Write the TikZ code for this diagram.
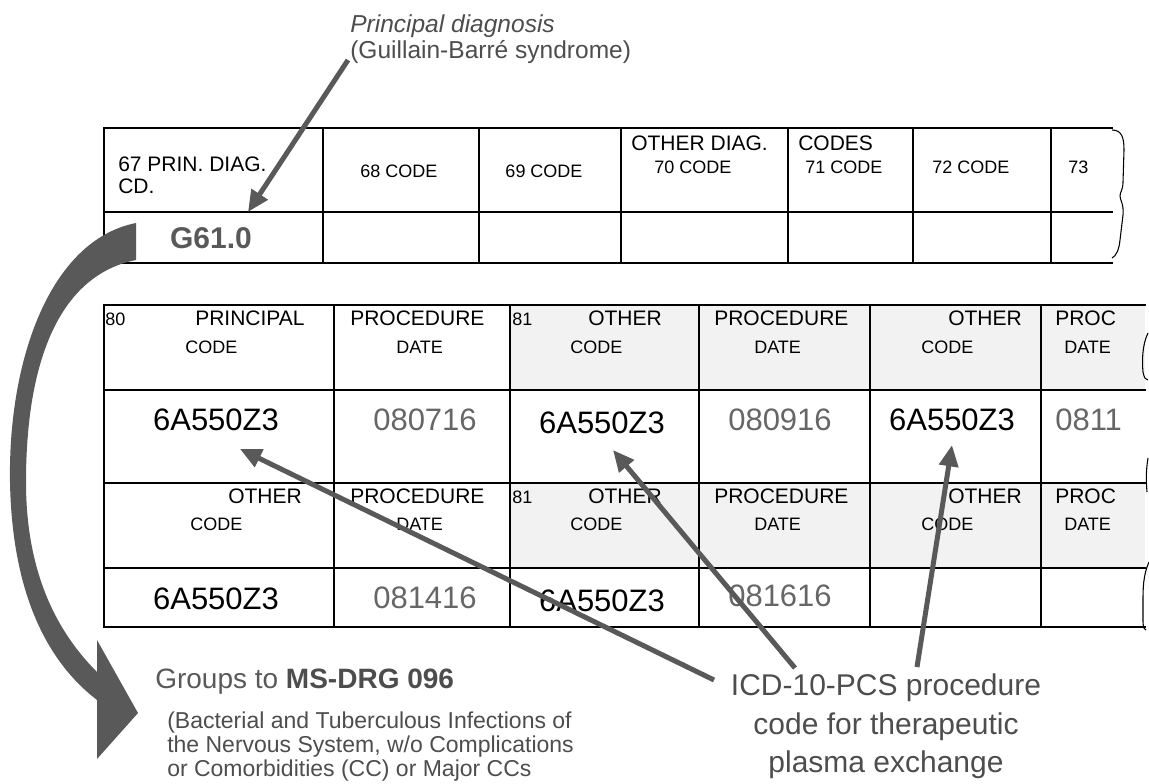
\documentclass[tikz,border=0pt]{standalone}
\usepackage{fontspec}
\setmainfont{Liberation Sans}
\usetikzlibrary{arrows.meta}

\definecolor{inkgray}{HTML}{595959}
\definecolor{dategray}{HTML}{666666}
\definecolor{notegray}{HTML}{4D4D4D}
\definecolor{cellgray}{HTML}{F2F2F2}

\tikzset{
  formline/.style={line width=1.6pt, line cap=rect},
  wavy/.style={line width=0.8pt},
  hbig/.style={anchor=base west, inner sep=0pt, font=\fontsize{15.75pt}{18pt}\selectfont},
  hsmall/.style={anchor=base west, inner sep=0pt, font=\fontsize{13.5pt}{16pt}\selectfont},
  codetxt/.style={anchor=base, inner sep=0pt, font=\fontsize{23.25pt}{26pt}\selectfont},
  datetxt/.style={codetxt, text=dategray},
  notetxt/.style={anchor=base west, inner sep=0pt, text=notegray},
  pointer/.style={draw=inkgray, line width=3.75pt, -{Triangle[length=16pt,width=14pt]}},
}

\begin{document}
\begin{tikzpicture}[x=0.75pt,y=-0.75pt]
		%%%%% START %%%%%
		\useasboundingbox (0,0) rectangle (1149,783);
		
		\node[notetxt, font=\fontsize{18.4pt}{22pt}\selectfont\itshape] (pdx) at (350,32) {Principal diagnosis};
		\node[notetxt, font=\fontsize{18.4pt}{22pt}\selectfont] (gbs) at (350,58) {(Guillain-Barré syndrome)};
		
		% upper form
		\draw[formline] (104,128) -- (1112,128);
		\draw[formline] (104,212) -- (1112,212);
		\draw[formline] (104,263) -- (1112,263);
		\draw[formline] (104,128) -- (104,263);
		\draw[formline] (323,128) -- (323,263);
		\draw[formline] (479,128) -- (479,263);
		\draw[formline] (621,128) -- (621,263);
		\draw[formline] (788,128) -- (788,263);
		\draw[formline] (913,128) -- (913,263);
		\draw[formline] (1051,128) -- (1051,263);
		\draw[wavy] (1112,130) .. controls (1122,130) and (1124,138) .. (1124,150) -- (1123,182)
			.. controls (1123,190) and (1120,192) .. (1120,196) .. controls (1120,200) and (1124,204) .. (1123,215)
			-- (1120,240) .. controls (1119,250) and (1116,256) .. (1112,258);
		
		\node[hbig] (h67) at (118,171) {67 PRIN. DIAG.};
		\node[hbig] (h67b) at (118,193) {CD.};
		\node[hsmall, anchor=base] (h68) at (399,177) {68 CODE};
		\node[hsmall, anchor=base] (h69) at (544,177) {69 CODE};
		\node[hbig] (hoth) at (631,150) {OTHER DIAG.};
		\node[hsmall] (h70) at (654,173) {70 CODE};
		\node[hbig] (hcodes) at (798,150) {CODES};
		\node[hsmall] (h71) at (805,173) {71 CODE};
		\node[hsmall] (h72) at (932,173) {72 CODE};
		\node[hsmall] (h73) at (1068,173) {73};
		\node[anchor=base, inner sep=0pt, text=inkgray, font=\fontsize{22.5pt}{26pt}\selectfont\bfseries] (g610) at (211,248) {G61.0};
		
		% lower form
		\fill[cellgray] (510,305) rectangle (1145,390);
		\fill[cellgray] (510,483) rectangle (1145,568);
		\draw[formline] (104,305) -- (1145,305);
		\draw[formline] (104,390) -- (1145,390);
		\draw[formline] (104,483) -- (1145,483);
		\draw[formline] (104,568) -- (1145,568);
		\draw[formline] (104,627) -- (1145,627);
		\draw[formline] (104,305) -- (104,627);
		\draw[formline] (334,305) -- (334,627);
		\draw[formline] (510,305) -- (510,627);
		\draw[formline] (699,305) -- (699,627);
		\draw[formline] (870,305) -- (870,627);
		\draw[formline] (1041,305) -- (1041,627);
		\draw[wavy] (1148,333) .. controls (1142,345) and (1142,362) .. (1143,372) .. controls (1144,378) and (1146,380) .. (1148,380);
		\draw[wavy] (1148,458) .. controls (1146,470) and (1146,480) .. (1147,492);
		\draw[wavy] (1149,562) .. controls (1143,575) and (1143,590) .. (1143,600) -- (1143,622) .. controls (1143,628) and (1145,630) .. (1146,630);
		
		\node[hsmall] (n80) at (105,325) {80};
		\node[hbig] (prin) at (195,325) {PRINCIPAL};
		\node[hsmall] (codeA) at (185,353) {CODE};
		\node[hbig] (procA) at (350,325) {PROCEDURE};
		\node[hsmall] (dateA) at (396,353) {DATE};
		\node[hsmall] (n81) at (512,325) {81};
		\node[hbig] (othB) at (588,325) {OTHER};
		\node[hsmall] (codeB) at (570,353) {CODE};
		\node[hbig] (procB) at (714,325) {PROCEDURE};
		\node[hsmall] (dateB) at (754,353) {DATE};
		\node[hbig] (othC) at (948,325) {OTHER};
		\node[hsmall] (codeC) at (921,353) {CODE};
		\node[hbig] (procC) at (1055,325) {PROC};
		\node[hsmall] (dateC) at (1064,353) {DATE};
		
		\node[codetxt] (r1c1) at (216,430) {6A550Z3};
		\node[datetxt] (r1c2) at (425,430) {080716};
		\node[codetxt] (r1c3) at (602,433) {6A550Z3};
		\node[datetxt] (r1c4) at (780,430) {080916};
		\node[codetxt] (r1c5) at (952,430) {6A550Z3};
		\node[datetxt, anchor=base west] (r1c6) at (1055,430) {0811};
		
		\node[hbig] (othA2) at (228,503) {OTHER};
		\node[hsmall] (codeA2) at (190,530) {CODE};
		\node[hbig] (procA2) at (350,503) {PROCEDURE};
		\node[hsmall] (dateA2) at (396,530) {DATE};
		\node[hsmall] (n81b) at (512,503) {81};
		\node[hbig] (othB2) at (588,503) {OTHER};
		\node[hsmall] (codeB2) at (570,530) {CODE};
		\node[hbig] (procB2) at (714,503) {PROCEDURE};
		\node[hsmall] (dateB2) at (754,530) {DATE};
		\node[hbig] (othC2) at (948,503) {OTHER};
		\node[hsmall] (codeC2) at (921,530) {CODE};
		\node[hbig] (procC2) at (1055,503) {PROC};
		\node[hsmall] (dateC2) at (1064,530) {DATE};
		
		\node[codetxt] (r2c1) at (216,609) {6A550Z3};
		\node[datetxt] (r2c2) at (425,608) {081416};
		\node[codetxt] (r2c3) at (602,611) {6A550Z3};
		\node[datetxt] (r2c4) at (780,606) {081616};
		
		% notes below
		\node[notetxt, text=inkgray, font=\fontsize{21pt}{25pt}\selectfont] (grp) at (155,688) {Groups to \textcolor{notegray}{\bfseries MS-DRG 096}};
		\node[notetxt, font=\fontsize{17.25pt}{19pt}\selectfont] (drg1) at (167,728) {(Bacterial and Tuberculous Infections of};
		\node[notetxt, font=\fontsize{17.25pt}{19pt}\selectfont] (drg2) at (167,752) {the Nervous System, w/o Complications};
		\node[notetxt, font=\fontsize{17.25pt}{19pt}\selectfont] (drg3) at (167,776) {or Comorbidities (CC) or Major CCs};
		
		\node[notetxt, anchor=base, font=\fontsize{22.5pt}{26pt}\selectfont] (icd1) at (886,695) {ICD-10-PCS procedure};
		\node[notetxt, anchor=base, font=\fontsize{22.5pt}{26pt}\selectfont] (icd2) at (886,734) {code for therapeutic};
		\node[notetxt, anchor=base, font=\fontsize{22.5pt}{26pt}\selectfont] (icd3) at (886,772) {plasma exchange};
		
		% big bent arrow
		\fill[inkgray] (136,223) .. controls (50,240) and (8,360) .. (10,482)
			.. controls (12,590) and (45,660) .. (97,700)
			-- (97,759) -- (138,713) -- (97,640) -- (97,672)
			.. controls (55,630) and (26,570) .. (26,482)
			.. controls (26,360) and (60,275) .. (136,260) -- cycle;
		
		% pointers
		\coordinate (pdxfoot) at (348,60);
		\coordinate (pdxtip) at (248,212);
		\coordinate (footA) at (714,680);
		\coordinate (footB) at (795,668);
		\coordinate (footC) at (917,667);
		\coordinate (tipA) at (240,449);
		\coordinate (tipB) at (613,450);
		\coordinate (tipC) at (952,445);
		
		\draw[pointer] (pdxfoot) -- (pdxtip);
		\draw[pointer] (footA) -- (tipA);
		\draw[pointer] (footB) -- (tipB);
		\draw[pointer] (footC) -- (tipC);
		
		%%%%% END %%%%%
\end{tikzpicture}
\end{document}
